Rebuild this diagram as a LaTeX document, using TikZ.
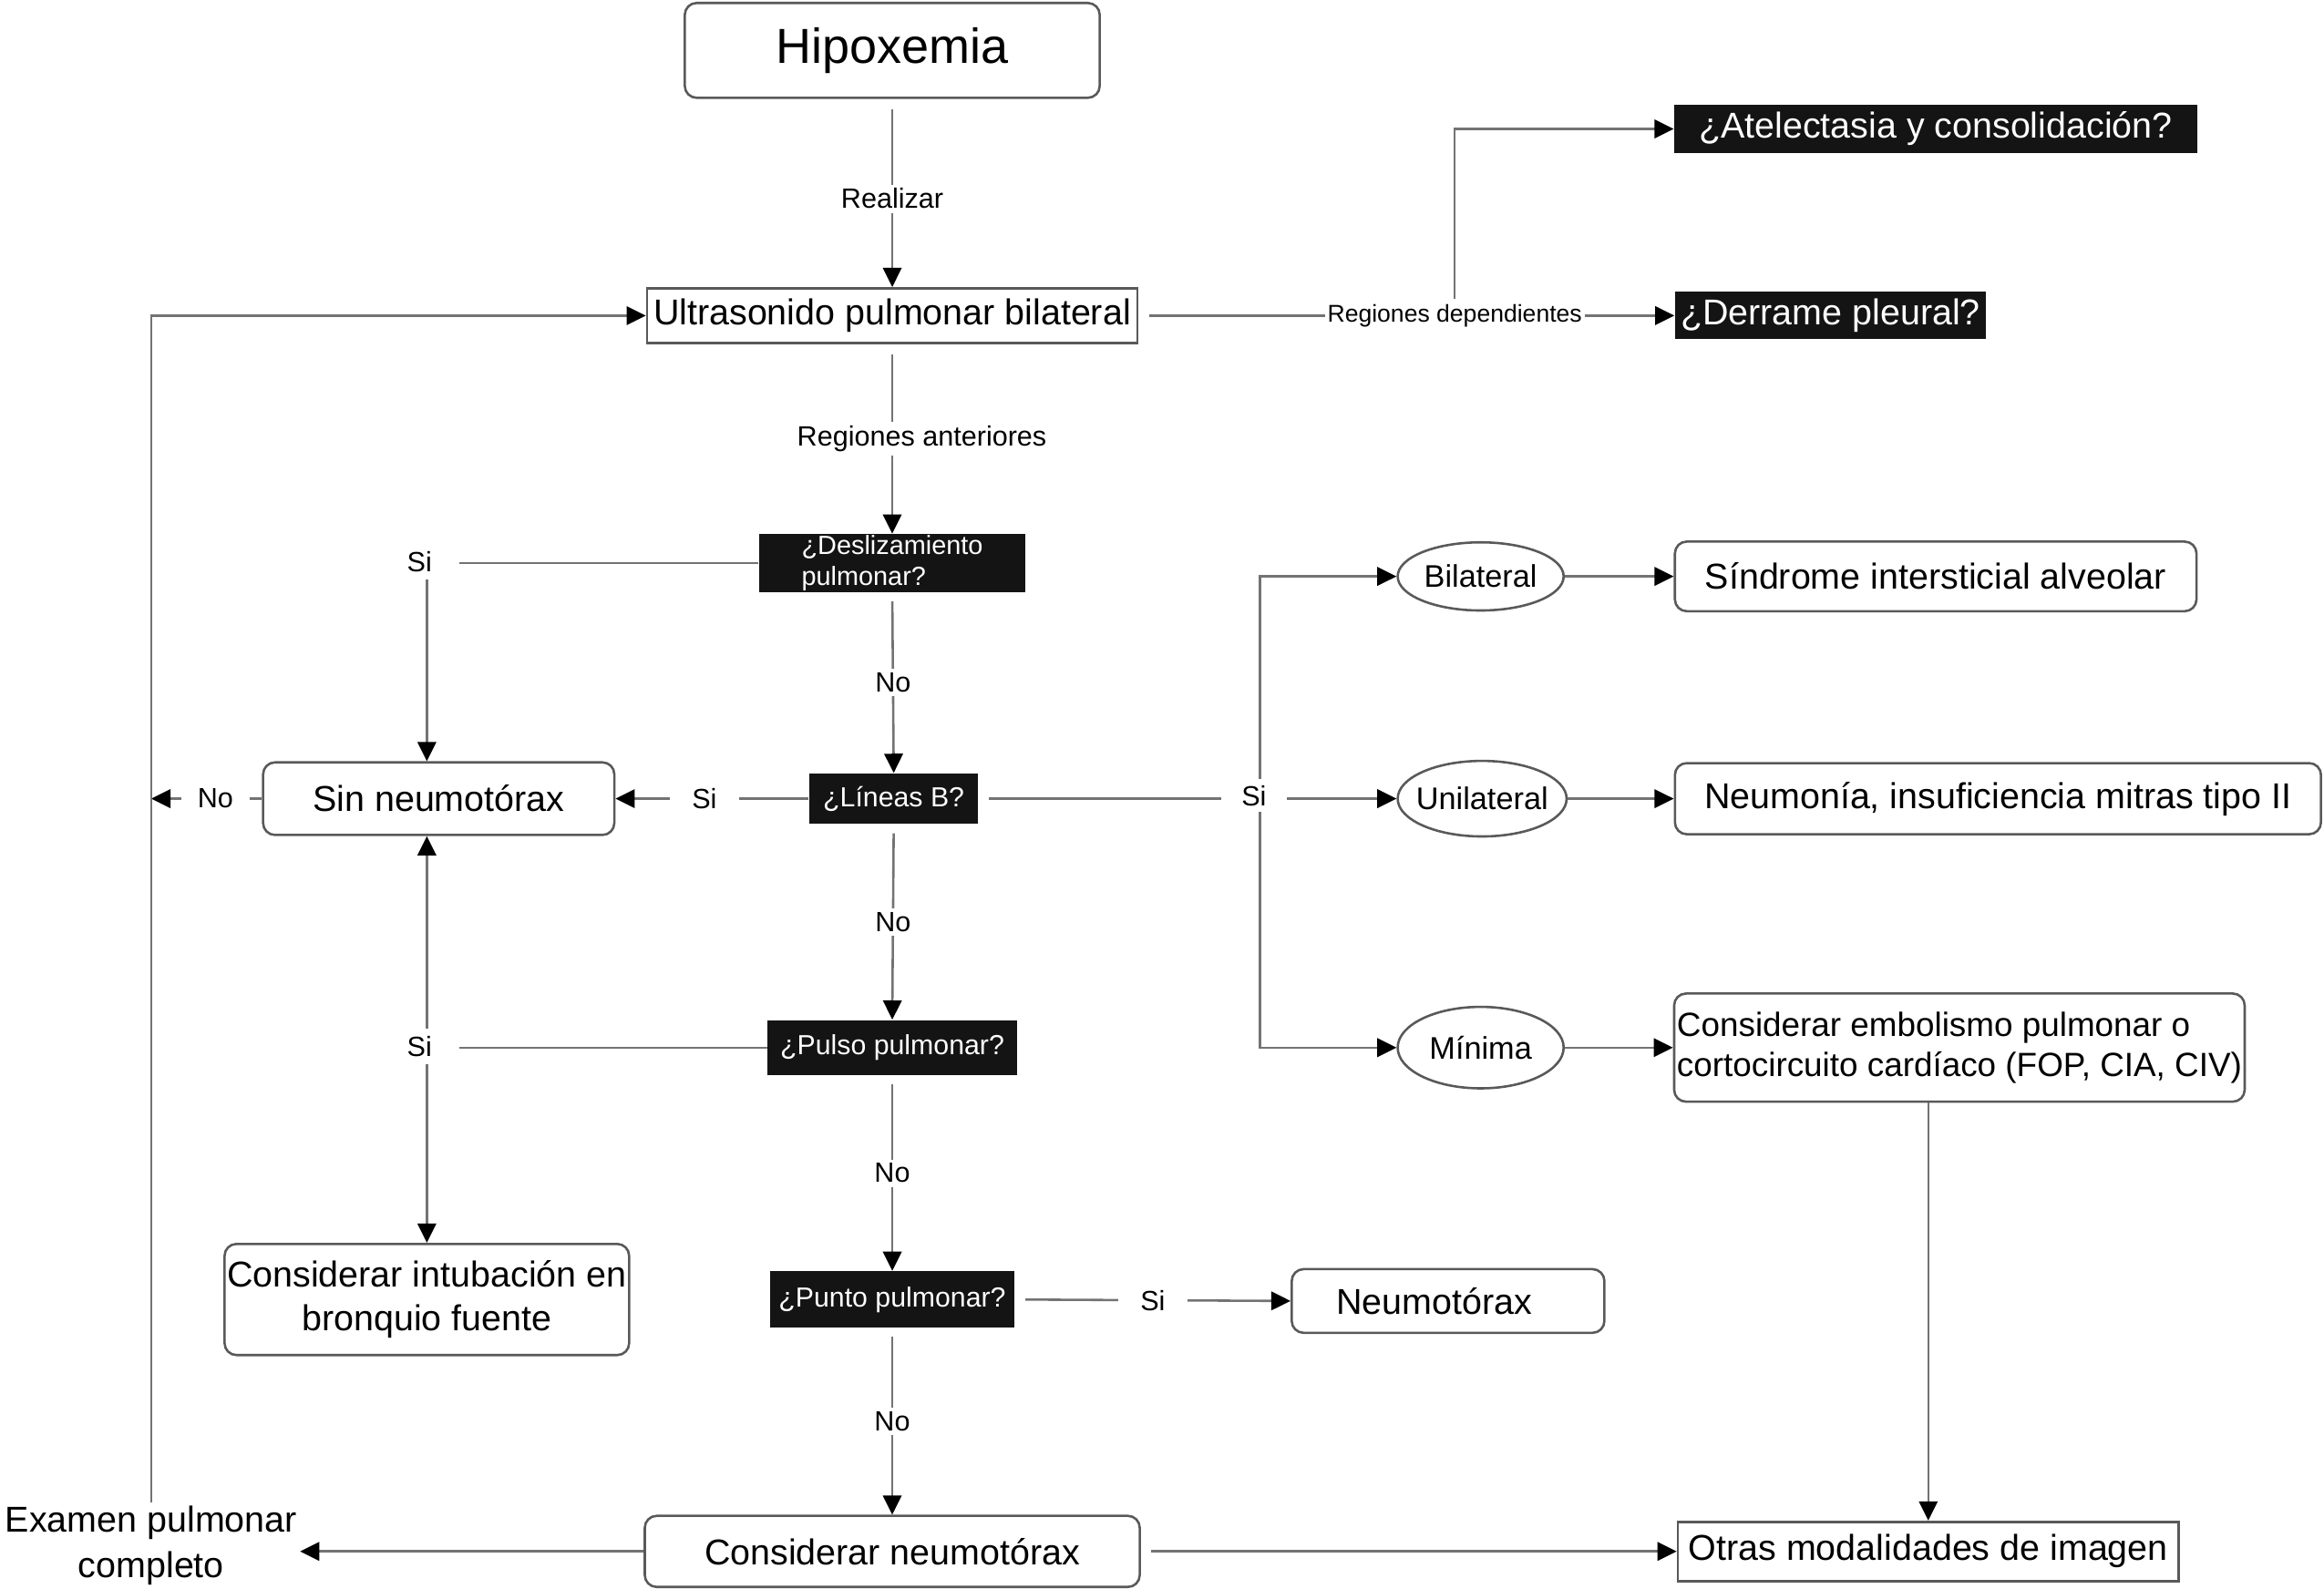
\documentclass[tikz,border=0pt]{standalone}
\usepackage{fontspec}
\setmainfont{Liberation Sans}
\usetikzlibrary{arrows.meta,shapes.geometric}

\tikzset{
  box/.style={draw=black!65, line width=0.9pt, fill=white, inner sep=0pt,
    font=\fontsize{13.8}{16.6}\selectfont},
  rbox/.style={box, rounded corners=0.16cm},
  qbox/.style={fill=black!92, text=white, inner sep=0pt,
    font=\fontsize{10.6}{12.2}\selectfont},
  oval/.style={ellipse, draw=black!65, line width=0.9pt, fill=white,
    inner xsep=-0.12cm, inner ysep=0pt, font=\fontsize{12}{14}\selectfont},
  lbl/.style={fill=white, inner sep=1.5pt, font=\fontsize{10.7}{12.8}\selectfont},
  arr/.style={draw=black!55, line width=0.9pt,
    -{Triangle[length=0.26cm,width=0.25cm,color=black]}},
}

\begin{document}
\begin{tikzpicture}[x=0.02cm, y=-0.02cm]
\useasboundingbox (0,0) rectangle (1568,1072);

%boxes
\node[rbox, minimum width=5.6cm, minimum height=1.28cm,
      font=\fontsize{18.9}{22}\selectfont] (hipo) at (602,34) {Hipoxemia};
\node[box, minimum width=6.62cm, minimum height=0.74cm] (ultra) at (602,213) {Ultrasonido pulmonar bilateral};
\node[qbox, minimum width=7.06cm, minimum height=0.64cm,
      font=\fontsize{13.8}{16.6}\selectfont] (atel) at (1306,87) {¿Atelectasia y consolidación?};
\node[qbox, minimum width=4.2cm, minimum height=0.64cm,
      font=\fontsize{13.8}{16.6}\selectfont] (derr) at (1235,213) {¿Derrame pleural?};
\node[qbox, minimum width=3.6cm, minimum height=0.78cm, align=left,
      font=\fontsize{10.1}{12.1}\selectfont] (desl) at (602,380) {¿Deslizamiento\\ pulmonar?};
\node[qbox, minimum width=2.28cm, minimum height=0.68cm] (lineas) at (603,539) {¿Líneas B?};
\node[rbox, minimum width=4.74cm, minimum height=0.98cm] (sin) at (296,539) {Sin neumotórax};
\node[qbox, minimum width=3.36cm, minimum height=0.74cm] (pulso) at (602,707) {¿Pulso pulmonar?};
\node[qbox, minimum width=3.3cm, minimum height=0.76cm] (punto) at (602,877) {¿Punto pulmonar?};
\node[rbox, minimum width=5.46cm, minimum height=1.5cm, align=center] (intub) at (288,877)
      {Considerar intubación en\\ bronquio fuente};
\node[rbox, minimum width=4.22cm, minimum height=0.86cm, inner xsep=0.6cm,
      text width=3.02cm, align=left] (neumo) at (977,878) {Neumotórax};
\node[rbox, minimum width=6.68cm, minimum height=0.96cm] (consneu) at (602,1047) {Considerar neumotórax};
\node[box, minimum width=6.76cm, minimum height=0.8cm] (otras) at (1301,1047) {Otras modalidades de imagen};
\node[oval, minimum width=2.24cm, minimum height=0.92cm] (bilat) at (999,389) {Bilateral};
\node[oval, minimum width=2.28cm, minimum height=1.02cm] (unilat) at (1000,539) {Unilateral};
\node[oval, minimum width=2.24cm, minimum height=1.1cm] (minima) at (999,707) {Mínima};
\node[rbox, minimum width=7.04cm, minimum height=0.94cm] (sindr) at (1306,389) {Síndrome intersticial alveolar};
\node[rbox, minimum width=8.72cm, minimum height=0.96cm] (neumon) at (1348,539) {Neumonía, insuficiencia mitras tipo II};
\node[rbox, minimum width=7.7cm, minimum height=1.46cm, align=left,
      font=\fontsize{12.9}{15.2}\selectfont] (embol) at (1322,707)
      {Considerar embolismo pulmonar o\\ cortocircuito cardíaco (FOP, CIA, CIV)};
\node[font=\fontsize{13.8}{17.6}\selectfont, align=center, inner sep=1pt] (examen) at (102,1043)
      {Examen pulmonar\\ completo};

%main column
\draw[arr, shorten <=0.14cm] (hipo.south) -- (ultra.north) node[pos=0.53, lbl] {Realizar};
\draw[arr, shorten <=0.14cm] (ultra.south) -- (desl.north)
      node[midway, lbl, xshift=0.4cm] {Regiones anteriores};
\draw[arr, shorten <=0.12cm] (desl.south) -- (lineas.north) node[midway, lbl] {No};
\draw[arr, shorten <=0.12cm] (lineas.south) -- (pulso.north) node[midway, lbl] {No};
\draw[arr, shorten <=0.12cm] (pulso.south) -- (punto.north) node[midway, lbl] {No};
\draw[arr, shorten <=0.12cm] (punto.south) -- (consneu.north) node[midway, lbl] {No};

%dependent regions
\draw[arr, shorten <=0.14cm] (ultra.east) -- (derr.west)
      node[pos=0.59, lbl, inner xsep=1pt, font=\fontsize{9.3}{11}\selectfont] (regdep) {Regiones dependientes};
\draw[arr] (regdep.north) |- (atel.west);

%left side
\draw[arr] (desl.west) -| ([xshift=-0.16cm]sin.north);
\node[lbl, minimum width=1.08cm, minimum height=0.48cm] at (283,379) {Si};
\draw[arr] (pulso.west) -| ([xshift=-0.16cm]sin.south);
\draw[arr] (pulso.west) -| (intub.north);
\node[lbl, minimum width=1.08cm, minimum height=0.48cm] at (283,706) {Si};
\draw[arr] (lineas.west) -- (sin.east) node[pos=0.54, lbl, inner xsep=0.3cm] {Si};
\draw[arr] (sin.west) -- (sin.west -| examen.north) node[pos=0.42, lbl, inner xsep=0.22cm] {No};
\draw[arr] (examen.north) |- (ultra.west);
\draw[arr] (consneu.west) -- (consneu.west -| examen.east);

%right side
\draw[arr, shorten <=0.14cm] (punto.east) -- (neumo.west) node[midway, lbl, inner xsep=0.3cm] {Si};
\draw[arr, shorten <=0.14cm] (consneu.east) -- (otras.west);
\coordinate (fork) at (850,539);
\draw[arr, shorten <=0.14cm] (lineas.east) -- (unilat.west);
\draw[arr] (fork) |- (bilat.west);
\draw[arr] (fork) |- (minima.west);
\node[lbl, minimum width=0.88cm, minimum height=0.44cm] at (846,537) {Si};
\draw[arr] (bilat.east) -- (sindr.west);
\draw[arr] (unilat.east) -- (neumon.west);
\draw[arr] (minima.east) -- (embol.west);
\draw[arr] (embol.south -| otras.north) -- (otras.north);
\end{tikzpicture}
\end{document}
